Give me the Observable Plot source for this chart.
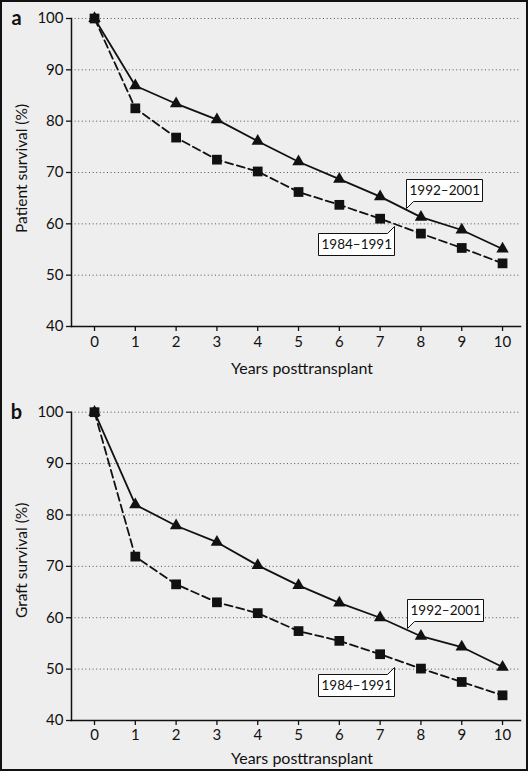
<!DOCTYPE html>
<html><head><meta charset="utf-8">
<script src="https://cdn.jsdelivr.net/npm/d3@7"></script>
<script src="https://cdn.jsdelivr.net/npm/@observablehq/plot@0.6"></script>
<style>
html,body{margin:0;padding:0;background:#eeeeee;}
#wrap{position:relative;width:528px;height:771px;background:#eeeeee;overflow:hidden;}
#wrap svg{display:block;}
#frame{position:absolute;left:0;top:0;width:528px;height:771px;box-sizing:border-box;border:2px solid #111;pointer-events:none;}
</style></head><body>
<div id="wrap"><div id="a"></div><div id="b"></div><div id="frame"></div></div>
<script>
const years = [0, 1, 2, 3, 4, 5, 6, 7, 8, 9, 10];
const yTicks = [40, 50, 60, 70, 80, 90, 100];
const gridTicks = [50, 60, 70, 80, 90, 100];
const seriesNames = ["1992–2001", "1984–1991"];

const patient1992 = [100, 86.9, 83.4, 80.3, 76.1, 72.1, 68.7, 65.3, 61.3, 58.8, 55.1];
const patient1984 = [100, 82.5, 76.8, 72.5, 70.2, 66.2, 63.7, 61.0, 58.1, 55.3, 52.3];
const graft1992 = [100, 82.0, 77.9, 74.7, 70.2, 66.3, 62.9, 60.0, 56.4, 54.3, 50.4];
const graft1984 = [100, 71.9, 66.5, 63.0, 60.9, 57.4, 55.5, 52.9, 50.1, 47.5, 44.9];

// callout anchor points (data units): [year, value] for 1992–2001 and 1984–1991
const calloutA1992 = [7.65, 63.0];
const calloutA1984 = [7.34, 59.5];
const calloutB1992 = [7.66, 58.0];
const calloutB1984 = [7.34, 50.4];

const FONT = "Lato, 'Open Sans', sans-serif";

function panel({letter, yLabel, s1, s2, c1, c2, height, marginTop, marginBottom, tickPad, titleDy, yTitleDy}) {
  const d1 = years.map((year, i) => ({year, value: s1[i]}));
  const d2 = years.map((year, i) => ({year, value: s2[i]}));
  const tipOpts = {
    x: "x", y: "y", title: "label",
    fill: "white", stroke: "#111", strokeWidth: 1,
    pathFilter: "none", pointerSize: 7, textPadding: 3,
    fontSize: 13.5, lineHeight: 1.05, fontFamily: FONT
  };
  return Plot.plot({
    width: 528, height, marginLeft: 71, marginRight: 8, marginTop, marginBottom,
    style: `background: transparent; font-family: ${FONT}; font-size: 15px; color: #111;`,
    x: {domain: [-0.564, 10.44]},
    y: {domain: [40, 100]},
    marks: [
      Plot.gridY(gridTicks, {stroke: "#555", strokeOpacity: 1, strokeDasharray: "1,2.6", strokeWidth: 1}),
      Plot.frame({anchor: "left", stroke: "#111", strokeWidth: 1.5}),
      Plot.frame({anchor: "bottom", stroke: "#111", strokeWidth: 1.5}),
      Plot.axisY(yTicks, {tickSize: 5, tickPadding: 3, label: null, fontSize: 15, strokeWidth: 1.3}),
      Plot.axisX(years, {tickSize: 5, tickPadding: tickPad, label: null, fontSize: 15, strokeWidth: 1.3}),
      Plot.text([yLabel], {text: d => d, frameAnchor: "left", rotate: -90, dx: -49, dy: yTitleDy, fontSize: 15.5, textAnchor: "middle", lineAnchor: "middle"}),
      Plot.text(["Years posttransplant"], {text: d => d, frameAnchor: "bottom", dx: 6, dy: titleDy, fontSize: 16, lineAnchor: "middle", textAnchor: "middle"}),
      Plot.text([letter], {text: d => d, frameAnchor: "top-left", dx: -55, dy: 0, fontSize: 20, fontWeight: "bold", textAnchor: "middle", lineAnchor: "middle"}),
      Plot.line(d1, {x: "year", y: "value", stroke: "#111", strokeWidth: 1.8}),
      Plot.line(d2, {x: "year", y: "value", stroke: "#111", strokeWidth: 1.8, strokeDasharray: "8,4"}),
      Plot.dot(d1, {x: "year", y: "value", symbol: "triangle", r: 4.6, fill: "#111", stroke: "none"}),
      Plot.dot(d2, {x: "year", y: "value", symbol: "square", r: 5.5, fill: "#111", stroke: "none"}),
      Plot.tip([{x: c1[0], y: c1[1], label: seriesNames[0]}], {...tipOpts, anchor: "bottom-left"}),
      Plot.tip([{x: c2[0], y: c2[1], label: seriesNames[1]}], {...tipOpts, anchor: "top-right"})
    ]
  });
}

document.getElementById("a").append(panel({
  letter: "a", yLabel: "Patient survival (%)", s1: patient1992, s2: patient1984,
  c1: calloutA1992, c2: calloutA1984,
  height: 380, marginTop: 18, marginBottom: 54, tickPad: 5, titleDy: 42, yTitleDy: -4
}));
document.getElementById("b").append(panel({
  letter: "b", yLabel: "Graft survival (%)", s1: graft1992, s2: graft1984,
  c1: calloutB1992, c2: calloutB1984,
  height: 391, marginTop: 31.7, marginBottom: 51, tickPad: 4, titleDy: 38, yTitleDy: -6
}));
</script>
</body></html>
